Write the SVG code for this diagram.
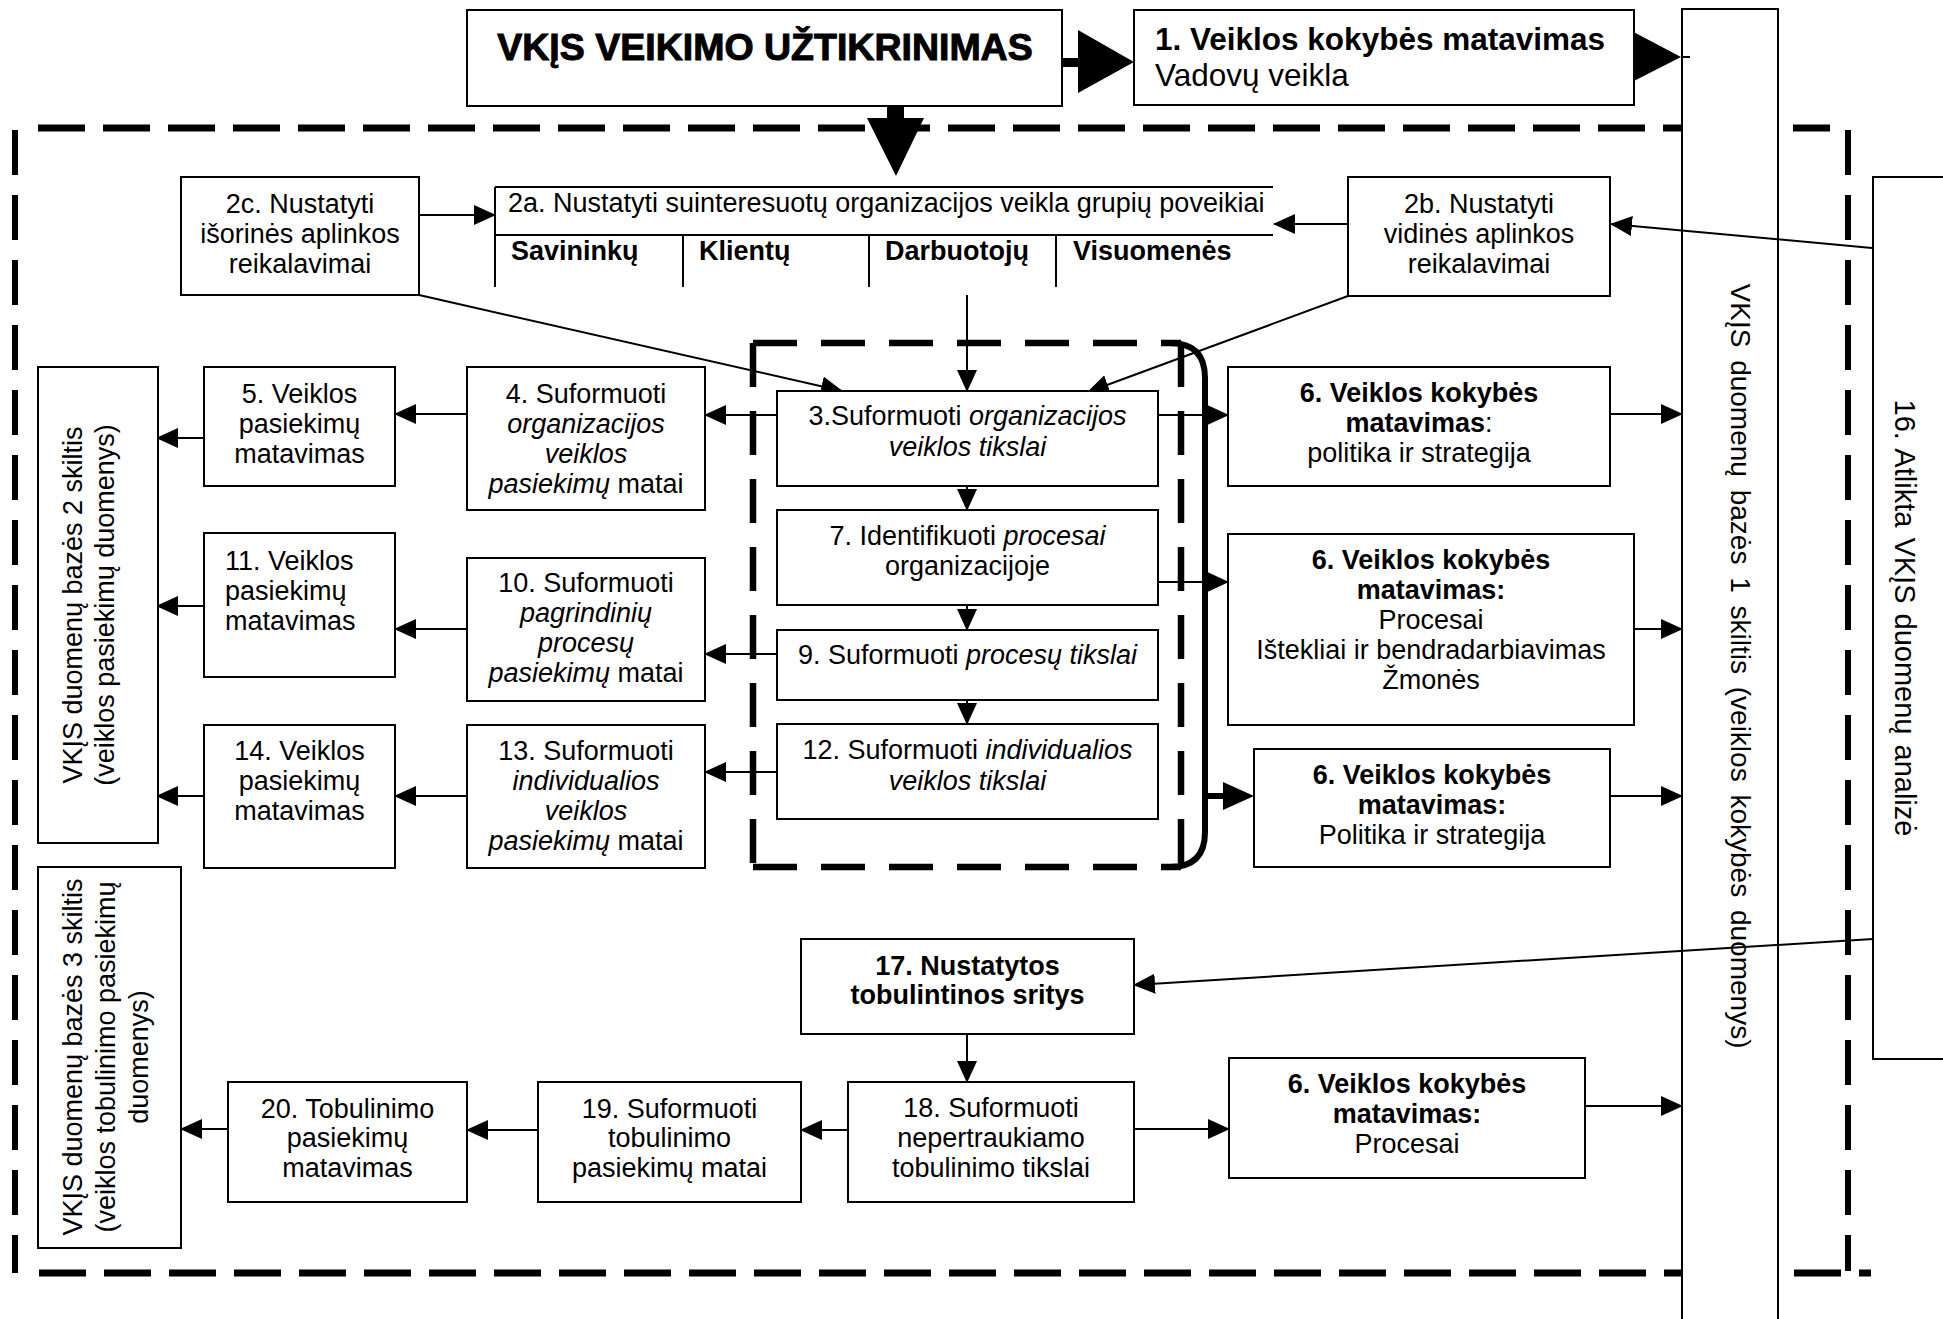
<svg xmlns="http://www.w3.org/2000/svg" width="1943" height="1319" viewBox="0 0 1943 1319">
  <defs>
    <style>
      .box { fill: #fff; stroke: #000; stroke-width: 2; }
      .t { font-family: "Liberation Sans", Arial, sans-serif; font-size: 27px; fill: #000; text-anchor: middle; }
      .s { text-anchor: start; }
      .b { font-weight: bold; }
      .i { font-style: italic; }
      .ln { stroke: #000; stroke-width: 2; fill: none; }
      .arr { marker-end: url(#ah); }
      .arr2 { marker-end: url(#ah2); }
      .dh { stroke: #000; stroke-width: 7; fill: none; stroke-dasharray: 47 18; }
      .dv { stroke: #000; stroke-width: 6; fill: none; stroke-dasharray: 45 20; }
      .di { stroke: #000; stroke-width: 6.5; fill: none; stroke-dasharray: 44 24; }
    </style>
    <marker id="ah" markerUnits="userSpaceOnUse" markerWidth="22" markerHeight="20" refX="21" refY="10" orient="auto">
      <path d="M0,0 L22,10 L0,20 Z" fill="#000"/>
    </marker>
    <marker id="ah2" markerUnits="userSpaceOnUse" markerWidth="26" markerHeight="24" refX="25" refY="12" orient="auto">
      <path d="M0,0 L26,12 L0,24 Z" fill="#000"/>
    </marker>
  </defs>
  <rect width="1943" height="1319" fill="#fff"/>

  <!-- outer dashed frame -->
  <g id="frame">
    <path class="dh" d="M38,128 L1830,128"/>
    <path class="dv" d="M15,130 L15,1273"/>
    <path class="dh" d="M39,1273 L1871,1273"/>
    <path class="dv" d="M1848,130 L1848,1271"/>
    <!-- inner dashed area with solid bracket -->
    <path class="di" d="M753,343 L1181,343"/>
    <path class="di" d="M753,343 L753,867"/>
    <path class="di" d="M753,867 L1181,867"/>
    <path class="di" d="M1181,343 L1181,867"/>
    <path d="M1170,343 Q1205,343 1205,378 L1205,832 Q1205,867 1170,867" stroke="#000" stroke-width="6" fill="none"/>
  </g>

  <!-- database column 1 and analysis box -->
  <g id="col1">
    <rect class="box" x="1682" y="9" width="96" height="1330"/>
    <text class="t" style="font-size:28px" word-spacing="5" transform="translate(1731,666) rotate(90)">VKĮS duomenų bazės 1 skiltis (veiklos kokybės duomenys)</text>
  </g>
  <g id="n16">
    <rect class="box" x="1873" y="177" width="90" height="882"/>
    <text class="t" style="font-size:29px" word-spacing="2" transform="translate(1895,618) rotate(90)">16. Atlikta VKĮS duomenų analizė</text>
  </g>

  <g id="connectors">
    <path class="ln arr" d="M419,215 L495,215"/>
    <path class="ln arr" d="M1348,224 L1274,224"/>
    <path class="ln arr" d="M419,295 L842,391"/>
    <path class="ln arr" d="M967,295 L967,391"/>
    <path class="ln arr" d="M1348,296 L1088,392"/>
    <path class="ln arr" d="M1872,248 L1611,224"/>
    <path class="ln arr" d="M777,415 L705,415"/>
    <path class="ln arr" d="M467,414 L395,414"/>
    <path class="ln arr" d="M204,438 L157,438"/>
    <path class="ln arr" d="M967,486 L967,510"/>
    <path class="ln arr" d="M967,605 L967,630"/>
    <path class="ln arr" d="M967,700 L967,724"/>
    <path class="ln arr" d="M777,654 L705,654"/>
    <path class="ln arr" d="M467,629 L395,629"/>
    <path class="ln arr" d="M204,606 L157,606"/>
    <path class="ln arr" d="M777,772 L705,772"/>
    <path class="ln arr" d="M467,796 L395,796"/>
    <path class="ln arr" d="M204,796 L157,796"/>
    <path class="ln arr2" d="M1158,415 L1228,415"/>
    <path class="ln arr2" d="M1158,582 L1228,582"/>
    <path d="M1205,796 L1225,796" stroke="#000" stroke-width="6"/>
    <path d="M1223,782 L1254,796 L1223,810 Z" fill="#000"/>
    <path class="ln arr" d="M1610,414 L1682,414"/>
    <path class="ln arr" d="M1634,629 L1682,629"/>
    <path class="ln arr" d="M1610,796 L1682,796"/>
    <path class="ln arr" d="M1873,939 L1134,985"/>
    <path class="ln arr" d="M967,1034 L967,1082"/>
    <path class="ln arr" d="M848,1130 L801,1130"/>
    <path class="ln arr" d="M538,1130 L467,1130"/>
    <path class="ln arr" d="M228,1129 L181,1129"/>
    <path class="ln arr" d="M1134,1129 L1229,1129"/>
    <path class="ln arr" d="M1585,1106 L1682,1106"/>
    <!-- block arrows -->
    <path d="M1062,58 L1078,58 L1078,30 L1134,62 L1078,93 L1078,67 L1062,67 Z" fill="#000"/>
    <path d="M887,106 L904,106 L904,118 L924,118 L896,176 L867,118 L887,118 Z" fill="#000"/>
    <path d="M1626,28 L1681,57 L1626,85 Z" fill="#000"/>
    <path class="ln" d="M1681,57 L1690,57" stroke-width="1.5"/>
  </g>

  <g id="title">
    <rect class="box" x="467" y="10" width="595" height="96"/>
    <text class="t b" x="765" y="60" style="font-size:37.5px" stroke="#000" stroke-width="1">VKĮS VEIKIMO UŽTIKRINIMAS</text>
  </g>
  <g id="n1">
    <rect class="box" x="1134" y="10" width="500" height="95"/>
    <text class="t s b" x="1155" y="50" style="font-size:31.5px">1. Veiklos kokybės matavimas</text>
    <text class="t s" x="1155" y="86" style="font-size:31.5px">Vadovų veikla</text>
  </g>

  <g id="n2c">
    <rect class="box" x="181" y="177" width="238" height="118"/>
    <text class="t" x="300" y="213">2c. Nustatyti</text>
    <text class="t" x="300" y="243">išorinės aplinkos</text>
    <text class="t" x="300" y="273">reikalavimai</text>
  </g>
  <g id="n2a">
    <path class="ln" d="M495,187 L1273,187 M495,187 L495,287 M495,235 L1273,235 M683,235 L683,287 M869,235 L869,287 M1056,235 L1056,287"/>
    <text class="t s" x="508" y="212">2a. Nustatyti suinteresuotų organizacijos veikla grupių poveikiai</text>
    <text class="t s b" x="511" y="260">Savininkų</text>
    <text class="t s b" x="699" y="260">Klientų</text>
    <text class="t s b" x="885" y="260">Darbuotojų</text>
    <text class="t s b" x="1073" y="260">Visuomenės</text>
  </g>
  <g id="n2b">
    <rect class="box" x="1348" y="177" width="262" height="119"/>
    <text class="t" x="1479" y="213">2b. Nustatyti</text>
    <text class="t" x="1479" y="243">vidinės aplinkos</text>
    <text class="t" x="1479" y="273">reikalavimai</text>
  </g>

  <g id="col2">
    <rect class="box" x="38" y="367" width="120" height="476"/>
    <text class="t" transform="translate(82,605) rotate(-90)">VKĮS duomenų bazės 2 skiltis</text>
    <text class="t" transform="translate(114,605) rotate(-90)">(veiklos pasiekimų duomenys)</text>
  </g>
  <g id="col3">
    <rect class="box" x="38" y="867" width="143" height="381"/>
    <text class="t" transform="translate(82,1057) rotate(-90)">VKĮS duomenų bazės 3 skiltis</text>
    <text class="t" transform="translate(115,1057) rotate(-90)">(veiklos tobulinimo pasiekimų</text>
    <text class="t" transform="translate(148,1057) rotate(-90)">duomenys)</text>
  </g>

  <g id="n5">
    <rect class="box" x="204" y="367" width="191" height="119"/>
    <text class="t" x="299.5" y="403">5. Veiklos</text>
    <text class="t" x="299.5" y="433">pasiekimų</text>
    <text class="t" x="299.5" y="463">matavimas</text>
  </g>
  <g id="n4">
    <rect class="box" x="467" y="367" width="238" height="143"/>
    <text class="t" x="586" y="403">4. Suformuoti</text>
    <text class="t i" x="586" y="433">organizacijos</text>
    <text class="t i" x="586" y="463">veiklos</text>
    <text class="t" x="586" y="493"><tspan class="i">pasiekimų</tspan> matai</text>
  </g>
  <g id="n11">
    <rect class="box" x="204" y="533" width="191" height="144"/>
    <text class="t s" x="225" y="570">11. Veiklos</text>
    <text class="t s" x="225" y="600">pasiekimų</text>
    <text class="t s" x="225" y="630">matavimas</text>
  </g>
  <g id="n10">
    <rect class="box" x="467" y="558" width="238" height="143"/>
    <text class="t" x="586" y="592">10. Suformuoti</text>
    <text class="t i" x="586" y="622">pagrindinių</text>
    <text class="t i" x="586" y="652">procesų</text>
    <text class="t" x="586" y="682"><tspan class="i">pasiekimų</tspan> matai</text>
  </g>
  <g id="n14">
    <rect class="box" x="204" y="725" width="191" height="143"/>
    <text class="t" x="299.5" y="760">14. Veiklos</text>
    <text class="t" x="299.5" y="790">pasiekimų</text>
    <text class="t" x="299.5" y="820">matavimas</text>
  </g>
  <g id="n13">
    <rect class="box" x="467" y="725" width="238" height="143"/>
    <text class="t" x="586" y="760">13. Suformuoti</text>
    <text class="t i" x="586" y="790">individualios</text>
    <text class="t i" x="586" y="820">veiklos</text>
    <text class="t" x="586" y="850"><tspan class="i">pasiekimų</tspan> matai</text>
  </g>

  <g id="n3">
    <rect class="box" x="777" y="391" width="381" height="95"/>
    <text class="t" x="967.5" y="425">3.Suformuoti <tspan class="i">organizacijos</tspan></text>
    <text class="t i" x="967.5" y="456">veiklos tikslai</text>
  </g>
  <g id="n7">
    <rect class="box" x="777" y="510" width="381" height="95"/>
    <text class="t" x="967.5" y="545">7. Identifikuoti <tspan class="i">procesai</tspan></text>
    <text class="t" x="967.5" y="575">organizacijoje</text>
  </g>
  <g id="n9">
    <rect class="box" x="777" y="630" width="381" height="70"/>
    <text class="t" x="967.5" y="664">9. Suformuoti <tspan class="i">procesų tikslai</tspan></text>
  </g>
  <g id="n12">
    <rect class="box" x="777" y="724" width="381" height="95"/>
    <text class="t" x="967.5" y="759">12. Suformuoti <tspan class="i">individualios</tspan></text>
    <text class="t i" x="967.5" y="790">veiklos tikslai</text>
  </g>

  <g id="n6a">
    <rect class="box" x="1228" y="367" width="382" height="119"/>
    <text class="t b" x="1419" y="402">6. Veiklos kokybės</text>
    <text class="t" x="1419" y="432"><tspan class="b">matavimas</tspan>:</text>
    <text class="t" x="1419" y="462">politika ir strategija</text>
  </g>
  <g id="n6b">
    <rect class="box" x="1228" y="534" width="406" height="191"/>
    <text class="t b" x="1431" y="569">6. Veiklos kokybės</text>
    <text class="t b" x="1431" y="599">matavimas:</text>
    <text class="t" x="1431" y="629">Procesai</text>
    <text class="t" x="1431" y="659">Ištekliai ir bendradarbiavimas</text>
    <text class="t" x="1431" y="689">Žmonės</text>
  </g>
  <g id="n6c">
    <rect class="box" x="1254" y="749" width="356" height="118"/>
    <text class="t b" x="1432" y="784">6. Veiklos kokybės</text>
    <text class="t b" x="1432" y="814">matavimas:</text>
    <text class="t" x="1432" y="844">Politika ir strategija</text>
  </g>

  <g id="n17">
    <rect class="box" x="801" y="939" width="333" height="95"/>
    <text class="t b" x="967.5" y="975">17. Nustatytos</text>
    <text class="t b" x="967.5" y="1004">tobulintinos sritys</text>
  </g>
  <g id="n18">
    <rect class="box" x="848" y="1082" width="286" height="120"/>
    <text class="t" x="991" y="1117">18. Suformuoti</text>
    <text class="t" x="991" y="1147">nepertraukiamo</text>
    <text class="t" x="991" y="1177">tobulinimo tikslai</text>
  </g>
  <g id="n19">
    <rect class="box" x="538" y="1082" width="263" height="120"/>
    <text class="t" x="669.5" y="1118">19. Suformuoti</text>
    <text class="t" x="669.5" y="1147">tobulinimo</text>
    <text class="t" x="669.5" y="1177">pasiekimų matai</text>
  </g>
  <g id="n20">
    <rect class="box" x="228" y="1082" width="239" height="120"/>
    <text class="t" x="347.5" y="1118">20. Tobulinimo</text>
    <text class="t" x="347.5" y="1147">pasiekimų</text>
    <text class="t" x="347.5" y="1177">matavimas</text>
  </g>
  <g id="n6d">
    <rect class="box" x="1229" y="1058" width="356" height="120"/>
    <text class="t b" x="1407" y="1093">6. Veiklos kokybės</text>
    <text class="t b" x="1407" y="1123">matavimas:</text>
    <text class="t" x="1407" y="1153">Procesai</text>
  </g>
</svg>
